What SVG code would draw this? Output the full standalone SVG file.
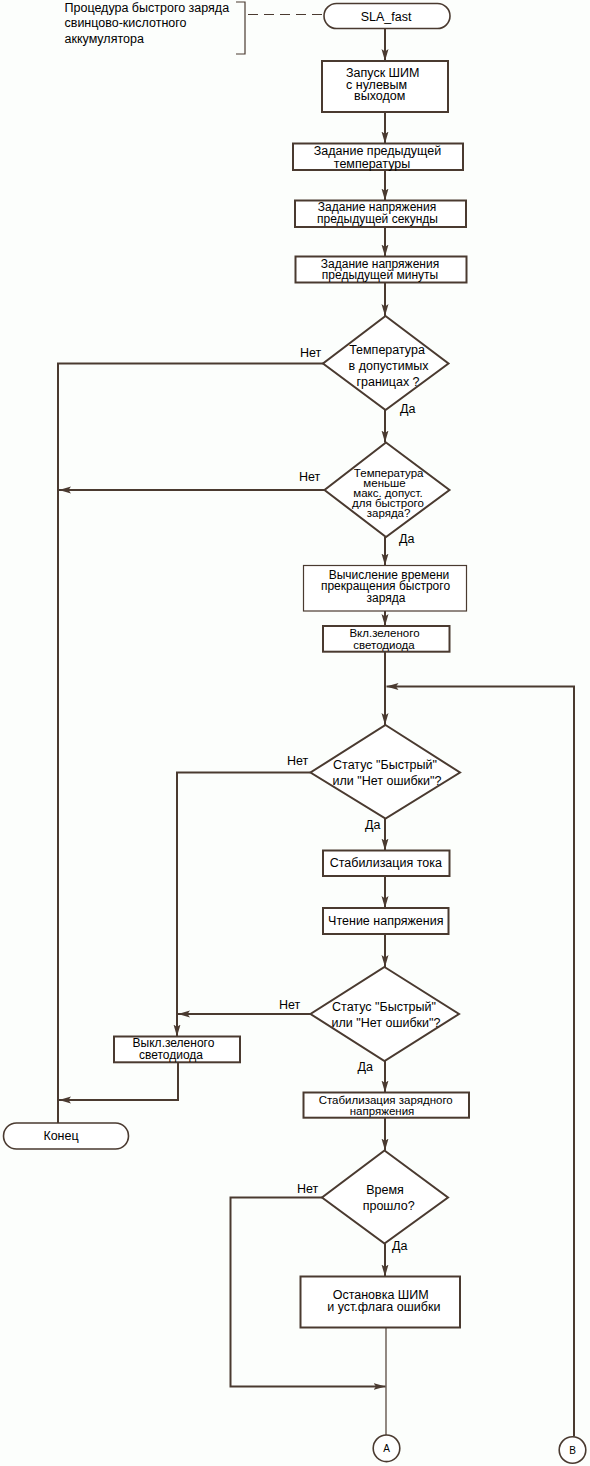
<svg xmlns="http://www.w3.org/2000/svg" width="590" height="1466" viewBox="0 0 590 1466">
<style>
  .bg { fill: #fcfefc; }
  .box { fill: #ffffff; stroke: #4a3a30; stroke-width: 2; }
  .thin { fill: #ffffff; stroke: #4a3a30; stroke-width: 1.2; }
  .term { fill: #ffffff; stroke: #4a3a30; stroke-width: 1.6; }
  .dia { fill: #ffffff; stroke: #4a3a30; stroke-width: 2; }
  .circ { fill: #ffffff; stroke: #4a3a30; stroke-width: 1.6; }
  .ln { fill: none; stroke: #4a3a30; stroke-width: 2; }
  .ln1 { fill: none; stroke: #4a3a30; stroke-width: 1.2; }
  .dash { fill: none; stroke: #4a3a30; stroke-width: 1.2; stroke-dasharray: 10 6; }
  text { font-family: "Liberation Sans", Arial, sans-serif; font-size: 12.5px; fill: #000000; }
  .c { text-anchor: middle; }
  .s { text-anchor: start; }
  .t { font-size: 12px; }
  .tt { font-size: 11.5px; }
  .small { font-size: 10px; }
</style>
<defs>
  <marker id="arr" markerUnits="userSpaceOnUse" markerWidth="12" markerHeight="8" viewBox="0 0 12 8" refX="12" refY="4" orient="auto">
    <path d="M0,0.5 L12,4 L0,7.5 L2.5,4 Z" fill="#4a3a30"/>
  </marker>
</defs>
<rect class="bg" x="0" y="0" width="590" height="1466"/>

<g id="connectors">
  <path class="dash" d="M248,14.5 H323"/>
  <path class="ln1" d="M236,2 H245 V54 H236"/>
  <path class="ln" d="M385,28.5 V61" marker-end="url(#arr)"/>
  <path class="ln" d="M385,112 V143.5" marker-end="url(#arr)"/>
  <path class="ln" d="M385,170 V200.5" marker-end="url(#arr)"/>
  <path class="ln" d="M385,227 V256.5" marker-end="url(#arr)"/>
  <path class="ln" d="M385,282.5 V316" marker-end="url(#arr)"/>
  <path class="ln" d="M323,363.5 H58 V1123"/>
  <path class="ln" d="M385,410 V442.5" marker-end="url(#arr)"/>
  <path class="ln" d="M324,490 H59" marker-end="url(#arr)"/>
  <path class="ln" d="M385,537 V565.5" marker-end="url(#arr)"/>
  <path class="ln" d="M385,611 V626" marker-end="url(#arr)"/>
  <path class="ln" d="M385,652 V725" marker-end="url(#arr)"/>
  <path class="ln" d="M575,686.5 H386.5" marker-end="url(#arr)"/>
  <path class="ln" d="M574,686.5 V1436.5"/>
  <path class="ln" d="M310.5,772.5 H177 V1036.5" marker-end="url(#arr)"/>
  <path class="ln" d="M385,818.5 V850.5" marker-end="url(#arr)"/>
  <path class="ln" d="M385,876 V908" marker-end="url(#arr)"/>
  <path class="ln" d="M385,934 V967" marker-end="url(#arr)"/>
  <path class="ln" d="M310.5,1014 H178" marker-end="url(#arr)"/>
  <path class="ln" d="M178,1062.5 V1100 H59" marker-end="url(#arr)"/>
  <path class="ln" d="M385,1061 V1092.5" marker-end="url(#arr)"/>
  <path class="ln" d="M385,1118 V1150.5" marker-end="url(#arr)"/>
  <path class="ln" d="M322,1197.5 H230.5 V1386.5 H385.5" marker-end="url(#arr)"/>
  <path class="ln" d="M385,1243.5 V1276.5" marker-end="url(#arr)"/>
  <path class="ln1" d="M386,1328 V1435"/>
</g>

<g id="comment">
  <text class="s" x="64.5" y="11.5">Процедура быстрого заряда</text>
  <text class="s" x="64.5" y="27">свинцово-кислотного</text>
  <text class="s" x="64.5" y="43">аккумулятора</text>
</g>

<g id="start">
  <rect class="term" x="324" y="3.5" width="126" height="25" rx="12.5"/>
  <text class="c" x="386" y="20.5">SLA_fast</text>
</g>

<g id="pwm_start">
  <rect class="box" x="322" y="61" width="126" height="51"/>
  <text class="s" x="346" y="77">Запуск ШИМ</text>
  <text class="s" x="346" y="88.5">с нулевым</text>
  <text class="s" x="354" y="100">выходом</text>
</g>

<g id="prev_temp">
  <rect class="box" x="293" y="143.5" width="170" height="26.5"/>
  <text class="c" x="377.5" y="155">Задание предыдущей</text>
  <text class="c" x="372" y="167.5">температуры</text>
</g>

<g id="prev_sec">
  <rect class="box" x="295" y="200.5" width="171" height="26.5"/>
  <text class="c t" x="377" y="211.3">Задание напряжения</text>
  <text class="c t" x="377.5" y="223">предыдущей секунды</text>
</g>

<g id="prev_min">
  <rect class="box" x="295.5" y="256.5" width="171" height="26"/>
  <text class="c t" x="380" y="267.5">Задание напряжения</text>
  <text class="c t" x="380" y="279">предыдущей минуты</text>
</g>

<g id="dec_temp">
  <polygon class="dia" points="385.5,316 448.5,363.5 385.5,410 323,363.5"/>
  <text class="c" x="387" y="354">Температура</text>
  <text class="c" x="388.6" y="369.7">в допустимых</text>
  <text class="c" x="388" y="385.7">границах ?</text>
  <text class="s" x="300" y="357">Нет</text>
  <text class="s" x="400" y="413">Да</text>
</g>

<g id="dec_max">
  <polygon class="dia" points="386,442.5 449.5,490 386,537 324.5,490"/>
  <text class="c tt" x="388.7" y="476.5">Температура</text>
  <text class="c tt" x="384.5" y="486.5">меньше</text>
  <text class="c tt" x="388" y="496.5">макс. допуст.</text>
  <text class="c tt" x="388" y="506.5">для быстрого</text>
  <text class="c tt" x="388.6" y="516.5">заряда?</text>
  <text class="s" x="299" y="481">Нет</text>
  <text class="s" x="399" y="543">Да</text>
</g>

<g id="calc_time">
  <rect class="thin" x="303.5" y="565.5" width="163" height="45.5"/>
  <text class="c t" x="389" y="578.8">Вычисление времени</text>
  <text class="c t" x="385.5" y="590.3">прекращения быстрого</text>
  <text class="c t" x="386" y="601.8">заряда</text>
</g>

<g id="led_on">
  <rect class="box" x="323" y="626" width="126.5" height="25.7"/>
  <text class="c tt" x="384.5" y="637.3">Вкл.зеленого</text>
  <text class="c tt" x="384" y="648.6">светодиода</text>
</g>

<g id="dec_status1">
  <polygon class="dia" points="385.5,725 460,772.5 385.5,818.5 310.5,772.5"/>
  <text class="c" x="385" y="769">Статус "Быстрый"</text>
  <text class="c" x="387" y="784.7">или "Нет ошибки"?</text>
  <text class="s" x="287" y="764.7">Нет</text>
  <text class="s" x="365" y="829">Да</text>
</g>

<g id="cur_stab">
  <rect class="box" x="323" y="850.5" width="126.5" height="25.5"/>
  <text class="c" x="385.8" y="866.7">Стабилизация тока</text>
</g>

<g id="read_v">
  <rect class="box" x="323" y="908" width="125.5" height="26"/>
  <text class="c" x="385.8" y="924.7">Чтение напряжения</text>
</g>

<g id="dec_status2">
  <polygon class="dia" points="384.5,967 459,1014 384.5,1061 310.5,1014"/>
  <text class="c" x="384" y="1010.7">Статус "Быстрый"</text>
  <text class="c" x="386" y="1026.7">или "Нет ошибки"?</text>
  <text class="s" x="279" y="1009">Нет</text>
  <text class="s" x="357.5" y="1071.3">Да</text>
</g>

<g id="led_off">
  <rect class="box" x="114" y="1036.5" width="126" height="25.8"/>
  <text class="c t" x="173.5" y="1047.3">Выкл.зеленого</text>
  <text class="c t" x="171" y="1058.5">светодиода</text>
</g>

<g id="end">
  <rect class="term" x="3.5" y="1123" width="125" height="26" rx="13"/>
  <text class="c" x="61" y="1139.7">Конец</text>
</g>

<g id="v_stab">
  <rect class="box" x="303.5" y="1092.5" width="165.5" height="25.2"/>
  <text class="c tt" x="385.7" y="1103.6">Стабилизация зарядного</text>
  <text class="c tt" x="382" y="1114.8">напряжения</text>
</g>

<g id="dec_time">
  <polygon class="dia" points="384.5,1150.5 448,1197.5 384.5,1243.5 322,1197.5"/>
  <text class="c" x="385" y="1194">Время</text>
  <text class="c" x="388.7" y="1209.5">прошло?</text>
  <text class="s" x="297" y="1193">Нет</text>
  <text class="s" x="392" y="1250">Да</text>
</g>

<g id="pwm_stop">
  <rect class="box" x="300.5" y="1276.5" width="159.5" height="51"/>
  <text class="c" x="380.7" y="1299">Остановка ШИМ</text>
  <text class="c" x="383.8" y="1311">и уст.флага ошибки</text>
</g>

<g id="conn_a">
  <circle class="circ" cx="386.5" cy="1448.3" r="13.3"/>
  <text class="c small" x="386.5" y="1452">A</text>
</g>

<g id="conn_b">
  <circle class="circ" cx="572.5" cy="1450" r="13.3"/>
  <text class="c small" x="572.5" y="1453.7">B</text>
</g>
</svg>
